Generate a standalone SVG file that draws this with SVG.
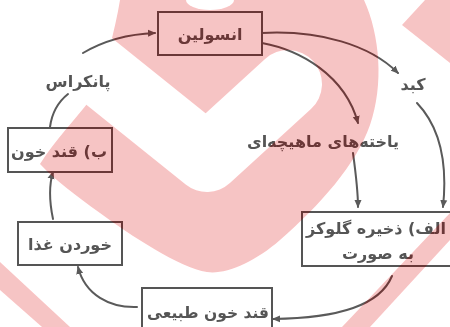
<svg xmlns="http://www.w3.org/2000/svg" xmlns:xlink="http://www.w3.org/1999/xlink" width="450" height="327" viewBox="0 0 450 327">
<style>
.box{fill:none;stroke:#555;stroke-width:2}
.t{font-family:"DejaVu Sans",sans-serif;font-weight:bold;fill:#555;text-anchor:middle;direction:rtl}
.c{fill:none;stroke:#5a5a5a;stroke-width:2;stroke-linecap:round}
</style>
<defs>
<marker id="ah" markerWidth="8" markerHeight="8" refX="7" refY="4" orient="auto" markerUnits="userSpaceOnUse">
<path d="M0,0.5 L8,4 L0,7.5 Z" fill="#5a5a5a"/>
</marker>
<mask id="chk" maskUnits="userSpaceOnUse" x="0" y="0" width="450" height="327">
<rect width="450" height="327" fill="#fff"/>
<path d="M60,40 L207,158 L288,84" stroke="#000" stroke-width="68" stroke-linecap="round" stroke-linejoin="round" fill="none"/>
<ellipse cx="210" cy="0" rx="24" ry="10" fill="#000"/>
</mask>
<g id="wmShapes">
<path d="M120,0 L364,0 C380,35 384,85 370,125 C356,165 320,205 280,240 C255,262 225,275 207,272 C180,268 130,235 100,213 C75,195 55,180 40,164 C55,140 75,120 90,100 C105,70 115,30 120,0 Z"/>
<path d="M425,0 L450,0 L450,63 L402,25 Z"/>
<path d="M450,213 L450,240 L370,327 L342,327 Z"/>
<path d="M0,262 L70,327 L42,327 L0,290 Z"/>
</g>
</defs>
<rect width="450" height="327" fill="#fff"/>
<g id="connectors">
<path class="c" d="M50,127 C52,112 58,102 68,94"/>
<path class="c" d="M83,53 C105,40 130,34 155,33" marker-end="url(#ah)"/>
<path class="c" d="M262,33 C320,30 370,45 398,73" marker-end="url(#ah)"/>
<path class="c" d="M417,103 C438,125 448,160 443,207" marker-end="url(#ah)"/>
<path class="c" d="M262,43 C300,50 345,75 358,123" marker-end="url(#ah)"/>
<path class="c" d="M353,153 C356,175 358,190 358,207" marker-end="url(#ah)"/>
<path class="c" d="M392,276 C380,305 340,318 273,319" marker-end="url(#ah)"/>
<path class="c" d="M137,307 C110,308 85,295 78,267" marker-end="url(#ah)"/>
<path class="c" d="M53,219 C49,200 49,185 53,172" marker-end="url(#ah)"/>
</g>
<g id="insulin"><rect class="box" x="158" y="12" width="104" height="43"/><text class="t" x="210" y="40" font-size="16">انسولین</text></g>
<g id="blood-sugar"><rect class="box" x="8" y="128" width="104" height="44"/><text class="t" x="59" y="157" font-size="16">ب) قند خون</text></g>
<g id="eating"><rect class="box" x="18" y="222" width="104" height="43"/><text class="t" x="70" y="250" font-size="16">خوردن غذا</text></g>
<g id="normal-sugar"><rect class="box" x="142" y="288" width="130" height="50"/><text class="t" x="208" y="318" font-size="15.5">قند خون طبیعی</text></g>
<g id="storage"><rect class="box" x="302" y="212" width="160" height="54"/><text class="t" x="376" y="234" font-size="16">الف) ذخیره گلوکز</text><text class="t" x="378" y="259" font-size="16">به صورت</text></g>
<g id="labels">
<text class="t" x="78" y="87" font-size="16">پانکراس</text>
<text class="t" x="413" y="90" font-size="16">کبد</text>
<text class="t" x="323" y="147" font-size="16">یاخته‌های ماهیچه‌ای</text>
</g>
<g id="watermark">
<use xlink:href="#wmShapes" fill="#f6c4c6" mask="url(#chk)" style="mix-blend-mode:multiply"/>
<use xlink:href="#wmShapes" fill="#b48282" mask="url(#chk)" style="mix-blend-mode:color"/>
</g>
</svg>
